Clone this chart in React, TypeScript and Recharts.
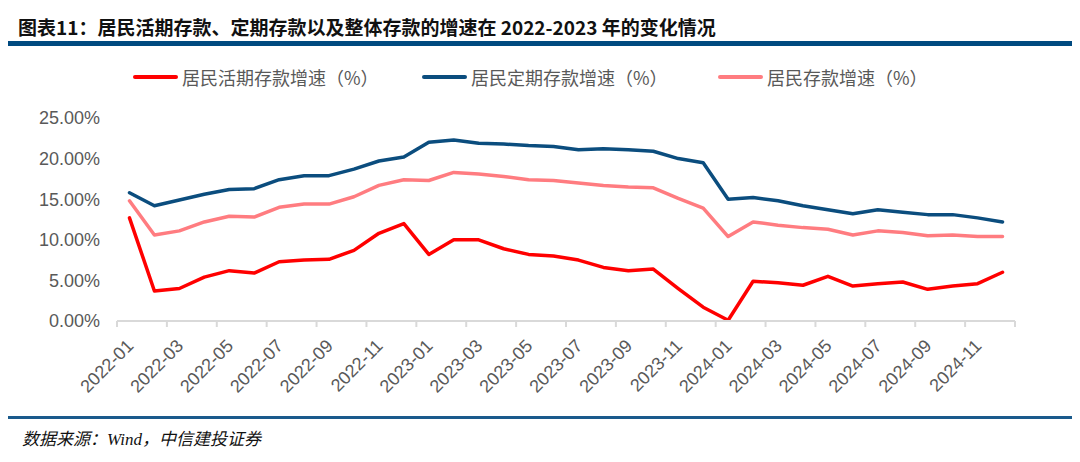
import { LineChart, Line, XAxis, YAxis, Legend } from 'recharts';

const months = [
    '2022-01', '2022-02', '2022-03', '2022-04', '2022-05', '2022-06',
    '2022-07', '2022-08', '2022-09', '2022-10', '2022-11', '2022-12',
    '2023-01', '2023-02', '2023-03', '2023-04', '2023-05', '2023-06',
    '2023-07', '2023-08', '2023-09', '2023-10', '2023-11', '2023-12',
    '2024-01', '2024-02', '2024-03', '2024-04', '2024-05', '2024-06',
    '2024-07', '2024-08', '2024-09', '2024-10', '2024-11', '2024-12',
];

// 居民活期存款增速
const demandGrowth = [
    12.7, 3.7, 4.0, 5.4, 6.2, 5.9, 7.3, 7.5, 7.6, 8.7, 10.8, 12.0,
    8.2, 10.0, 10.0, 8.9, 8.2, 8.0, 7.5, 6.6, 6.2, 6.4, 4.0, 1.7,
    0.1, 4.9, 4.7, 4.4, 5.5, 4.3, 4.6, 4.8, 3.9, 4.3, 4.6, 6.0,
];
// 居民定期存款增速
const timeGrowth = [
    15.8, 14.2, 14.9, 15.6, 16.2, 16.3, 17.4, 17.9, 17.9, 18.7, 19.7, 20.2,
    22.0, 22.3, 21.9, 21.8, 21.6, 21.5, 21.1, 21.2, 21.1, 20.9, 20.0, 19.5,
    15.0, 15.2, 14.8, 14.2, 13.7, 13.2, 13.7, 13.4, 13.1, 13.1, 12.7, 12.2,
];
// 居民存款增速
const totalGrowth = [
    14.8, 10.6, 11.1, 12.2, 12.9, 12.8, 14.0, 14.4, 14.4, 15.3, 16.7, 17.4,
    17.3, 18.3, 18.1, 17.8, 17.4, 17.3, 17.0, 16.7, 16.5, 16.4, 15.1, 13.9,
    10.4, 12.2, 11.8, 11.5, 11.3, 10.6, 11.1, 10.9, 10.5, 10.6, 10.4, 10.4,
];

const yTicks = [0, 5, 10, 15, 20, 25];

const seriesNames = ['居民活期存款增速（%）', '居民定期存款增速（%）', '居民存款增速（%）'];
const COLORS = ['#ff0000', '#0b4d7e', '#ff7c80'];

const data = months.map((m, i) => ({
    month: m,
    demand: demandGrowth[i],
    time: timeGrowth[i],
    total: totalGrowth[i],
}));

const PLOT_LEFT = 117;
const PLOT_RIGHT = 1015;
const BAND = (PLOT_RIGHT - PLOT_LEFT) / months.length;
const AXIS_GREY = '#d9d9d9';
const TEXT_GREY = '#595959';
const SANS = '"Liberation Sans", Arial, sans-serif';
const CJK = '"Noto Sans CJK SC", sans-serif';

// label plus a tick mark on the left edge of every second category
const XTick = ({ x, y, payload }: any) => {
    const isLast = payload.value === months[months.length - 2];
    const ax = x + 5;
    const ay = y + 26;
    return (
        <g>
            <line x1={x - BAND / 2} y1={y} x2={x - BAND / 2} y2={y + 6} stroke={AXIS_GREY} strokeWidth={2} />
            {isLast && (
                <line x1={x + BAND * 1.5} y1={y} x2={x + BAND * 1.5} y2={y + 6} stroke={AXIS_GREY} strokeWidth={2} />
            )}
            <text
                x={ax}
                y={ay}
                transform={`rotate(-45, ${ax}, ${ay})`}
                textAnchor="end"
                fontSize={18}
                fontFamily={SANS}
                fill={TEXT_GREY}
            >
                {payload.value}
            </text>
        </g>
    );
};

const legendLeft = [133, 422, 718];

const CustomLegend = () => (
    <div style={{ position: 'relative', width: 1080, height: 30 }}>
        {seriesNames.map((name, i) => (
            <div
                key={name}
                style={{ position: 'absolute', left: legendLeft[i], top: 0, display: 'flex', alignItems: 'center', height: 30 }}
            >
                <span style={{ width: 45, height: 4, borderRadius: 2, background: COLORS[i], marginRight: 4 }} />
                <span style={{ fontFamily: CJK, fontSize: 18, color: TEXT_GREY }}>{name}</span>
            </div>
        ))}
    </div>
);

export default function App() {
    return (
        <div style={{ position: 'absolute', left: 0, top: 0, width: 1080, height: 462, background: '#fff', overflow: 'hidden' }}>
            <div
                style={{
                    position: 'absolute',
                    left: 18,
                    top: 13,
                    fontFamily: CJK,
                    fontWeight: 700,
                    fontSize: 19,
                    color: '#111',
                    whiteSpace: 'nowrap',
                }}
            >
                图表11：居民活期存款、定期存款以及整体存款的增速在 2022-2023 年的变化情况
            </div>
            <div style={{ position: 'absolute', left: 8, top: 41, width: 1064, height: 5, background: '#004a80' }} />

            <div style={{ position: 'absolute', left: 0, top: 0 }}>
                <LineChart width={1080} height={462} data={data} margin={{ top: 118, right: 65, bottom: 61, left: 0 }}>
                    <XAxis
                        dataKey="month"
                        interval={1}
                        height={80}
                        padding={{ left: BAND / 2, right: BAND / 2 }}
                        tickLine={false}
                        tickSize={0}
                        tickMargin={0}
                        axisLine={{ stroke: AXIS_GREY, strokeWidth: 2 }}
                        tick={<XTick />}
                    />
                    <YAxis
                        width={117}
                        domain={[0, 25]}
                        ticks={yTicks}
                        axisLine={false}
                        tickLine={false}
                        tickSize={0}
                        tickMargin={17}
                        tickFormatter={(v: number) => `${v.toFixed(2)}%`}
                        tick={{ fontSize: 18, fontFamily: SANS, fill: TEXT_GREY }}
                    />
                    <Legend
                        verticalAlign="middle"
                        content={<CustomLegend />}
                        wrapperStyle={{ top: 62, left: 0, width: 1080 }}
                    />
                    <Line type="linear" dataKey="demand" name={seriesNames[0]} stroke={COLORS[0]} strokeWidth={3.5} dot={false} strokeLinecap="round" strokeLinejoin="round" isAnimationActive={false} />
                    <Line type="linear" dataKey="time" name={seriesNames[1]} stroke={COLORS[1]} strokeWidth={3.5} dot={false} strokeLinecap="round" strokeLinejoin="round" isAnimationActive={false} />
                    <Line type="linear" dataKey="total" name={seriesNames[2]} stroke={COLORS[2]} strokeWidth={3.5} dot={false} strokeLinecap="round" strokeLinejoin="round" isAnimationActive={false} />
                </LineChart>
            </div>

            <div style={{ position: 'absolute', left: 8, top: 416, width: 1064, height: 3, background: '#1a5a8c' }} />
            <div
                style={{
                    position: 'absolute',
                    left: 22,
                    top: 425,
                    fontSize: 17,
                    fontStyle: 'italic',
                    fontFamily: `"Liberation Serif", ${CJK}`,
                    color: '#111',
                    whiteSpace: 'nowrap',
                }}
            >
                数据来源：Wind，中信建投证券
            </div>
        </div>
    );
}
